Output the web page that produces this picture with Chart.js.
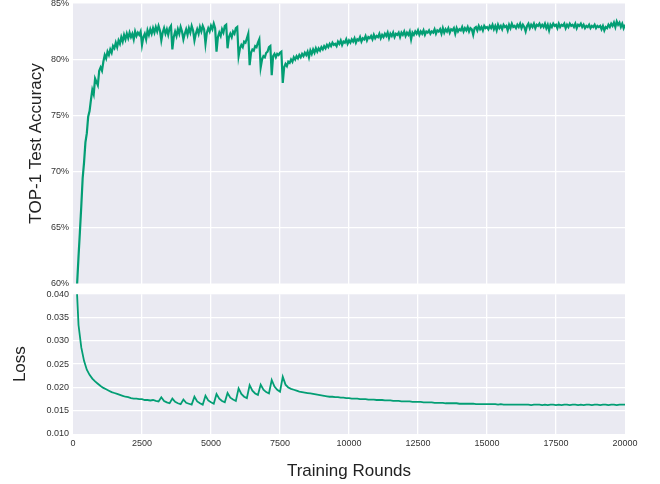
<!DOCTYPE html>
<html>
<head>
<meta charset="utf-8">
<script src="https://cdn.jsdelivr.net/npm/chart.js@4"></script>
<style>
  html, body { margin: 0; padding: 0; background: #ffffff; }
  #wrap { position: relative; width: 660px; height: 484px; overflow: hidden; }
  canvas { position: absolute; left: 0; }
  #acc { top: 0; }
  #loss { top: 286px; }
</style>
</head>
<body>
<div id="wrap">
  <canvas id="acc" width="660" height="290"></canvas>
  <canvas id="loss" width="660" height="198"></canvas>
</div>
<script>
// TOP-1 test accuracy (%), evaluated every 50 rounds (50 .. 20000)
const ACCURACY = [
  /*    50-1000  */ 52.0, 57.0, 60.0, 62.4, 64.6, 66.9, 69.4, 70.8, 72.6, 73.4, 74.9, 75.4, 76.4, 77.3, 76.9, 78.3, 78.0, 77.7, 79.0, 79.3,
  /*  1050-2000  */ 79.0, 79.8, 80.4, 80.1, 80.7, 80.4, 80.9, 80.6, 81.2, 81.0, 81.5, 81.1, 81.7, 81.4, 82.0, 81.6, 82.2, 81.8, 82.3, 81.9,
  /*  2050-3000  */ 82.4, 82.0, 82.3, 81.8, 82.5, 82.1, 82.4, 82.2, 82.5, 81.3, 82.0, 82.3, 81.8, 82.6, 82.2, 82.7, 82.3, 82.8, 82.4, 82.9,
  /*  3050-4000  */ 82.5, 83.0, 82.6, 81.7, 82.4, 82.8, 82.3, 82.7, 82.2, 82.8, 83.0, 80.9, 82.0, 82.5, 82.1, 82.7, 82.3, 82.9, 82.5, 81.8,
  /*  4050-5000  */ 82.3, 82.7, 82.2, 82.8, 82.4, 83.0, 82.6, 81.7, 82.3, 82.7, 82.3, 82.9, 82.5, 83.0, 82.7, 81.4, 82.4, 82.8, 82.5, 83.0,
  /*  5050-6000  */ 82.7, 83.2, 82.8, 80.7, 82.0, 82.4, 82.1, 82.7, 82.4, 83.0, 83.1, 81.0, 82.0, 82.3, 82.0, 82.5, 82.3, 82.8, 82.9, 80.3,
  /*  6050-7000  */ 81.0, 81.3, 81.1, 81.6, 81.5, 81.9, 82.3, 79.5, 80.6, 80.9, 80.8, 81.2, 81.1, 81.5, 81.8, 79.3, 80.0, 80.3, 80.2, 80.6,
  /*  7050-8000  */ 80.7, 81.1, 81.2, 78.6, 80.3, 80.5, 80.2, 80.5, 80.4, 80.6, 80.7, 77.9, 79.3, 79.6, 79.4, 79.8, 79.7, 80.0, 79.8, 80.2,
  /*  8050-9000  */ 80.0, 80.3, 80.1, 80.4, 80.2, 80.5, 80.3, 80.6, 80.4, 80.7, 80.2, 80.8, 80.5, 80.9, 80.6, 81.0, 80.7, 81.0, 80.8, 81.1,
  /*  9050-10000 */ 80.9, 81.2, 81.0, 81.3, 81.1, 81.4, 81.2, 81.5, 81.3, 81.4, 81.2, 81.6, 81.4, 81.7, 81.3, 81.6, 81.5, 81.8, 81.4, 81.7,
  /* 10050-11000 */ 81.5, 81.8, 81.6, 81.9, 81.5, 81.8, 81.7, 82.0, 81.6, 81.9, 81.8, 82.1, 81.7, 82.0, 81.9, 82.1, 81.8, 82.2, 81.9, 82.1,
  /* 11050-12000 */ 82.0, 82.3, 81.9, 82.2, 82.0, 82.3, 82.1, 82.4, 81.9, 82.3, 82.1, 82.4, 82.0, 82.3, 82.2, 82.4, 82.0, 82.4, 82.2, 82.5,
  /* 12050-13000 */ 82.1, 82.4, 82.2, 82.5, 81.8, 82.4, 82.2, 82.5, 82.3, 82.6, 82.2, 82.5, 82.3, 82.6, 82.2, 82.5, 82.4, 82.6, 82.3, 82.5,
  /* 13050-14000 */ 82.4, 82.7, 82.3, 82.6, 82.5, 82.7, 82.3, 82.8, 82.4, 82.7, 82.5, 82.8, 82.4, 82.7, 82.6, 82.8, 82.3, 82.8, 82.5, 82.7,
  /* 14050-15000 */ 82.6, 82.9, 82.5, 82.8, 82.6, 82.9, 82.5, 82.8, 82.7, 82.2, 82.8, 82.9, 82.6, 83.0, 82.7, 82.9, 82.6, 83.0, 82.8, 82.9,
  /* 15050-16000 */ 82.7, 83.0, 82.8, 83.1, 82.7, 83.0, 82.6, 83.1, 82.8, 83.0, 82.7, 83.1, 82.9, 83.0, 82.6, 83.1, 82.8, 83.2, 82.9, 83.0,
  /* 16050-17000 */ 82.8, 83.1, 82.9, 83.2, 82.8, 83.1, 82.9, 82.5, 83.0, 83.2, 82.8, 83.1, 82.9, 83.2, 82.8, 83.1, 83.0, 83.2, 82.9, 83.1,
  /* 17050-18000 */ 82.9, 83.2, 82.8, 83.1, 82.6, 83.1, 82.9, 83.2, 83.0, 83.1, 82.8, 83.2, 82.9, 83.1, 83.0, 83.2, 82.8, 83.1, 82.9, 83.2,
  /* 18050-19000 */ 83.0, 83.1, 82.9, 83.2, 82.8, 83.1, 83.0, 83.2, 82.9, 83.1, 82.8, 83.0, 82.9, 83.1, 82.8, 83.0, 82.9, 83.1, 82.8, 83.0,
  /* 19050-20000 */ 82.9, 83.0, 82.7, 83.0, 82.6, 82.9, 82.8, 83.1, 82.9, 83.2, 83.0, 83.3, 82.9, 83.4, 83.1, 83.3, 82.9, 83.2, 82.8, 83.1
];

// Training loss, evaluated every 100 rounds (100 .. 20000)
const LOSS = [
  /*   100-1000  */ 0.0460, 0.0334, 0.0286, 0.0257, 0.0238, 0.0227, 0.0219, 0.0213, 0.0208, 0.0203,
  /*  1100-2000  */ 0.0199, 0.0196, 0.0193, 0.0190, 0.0188, 0.0186, 0.0184, 0.0182, 0.0180, 0.0179,
  /*  2100-3000  */ 0.0177, 0.0176, 0.0176, 0.0175, 0.0175, 0.0173, 0.0173, 0.0172, 0.0173, 0.0171,
  /*  3100-4000  */ 0.0170, 0.0179, 0.0171, 0.0168, 0.0166, 0.0176, 0.0169, 0.0166, 0.0164, 0.0174,
  /*  4100-5000  */ 0.0167, 0.0165, 0.0163, 0.0180, 0.0170, 0.0166, 0.0163, 0.0182, 0.0172, 0.0168,
  /*  5100-6000  */ 0.0165, 0.0186, 0.0176, 0.0171, 0.0168, 0.0188, 0.0178, 0.0174, 0.0171, 0.0198,
  /*  6100-7000  */ 0.0186, 0.0180, 0.0177, 0.0205, 0.0193, 0.0187, 0.0184, 0.0206, 0.0195, 0.0190,
  /*  7100-8000  */ 0.0187, 0.0216, 0.0202, 0.0195, 0.0191, 0.0223, 0.0206, 0.0200, 0.0197, 0.0195,
  /*  8100-9000  */ 0.0193, 0.0191, 0.0190, 0.0189, 0.0188, 0.0187, 0.0186, 0.0185, 0.0184, 0.0183,
  /*  9100-10000 */ 0.0182, 0.0181, 0.0180, 0.0180, 0.0179, 0.0179, 0.0178, 0.0178, 0.0177, 0.0177,
  /* 10100-11000 */ 0.0176, 0.0176, 0.0176, 0.0175, 0.0175, 0.0175, 0.0174, 0.0174, 0.0174, 0.0173,
  /* 11100-12000 */ 0.0173, 0.0173, 0.0172, 0.0172, 0.0172, 0.0171, 0.0171, 0.0171, 0.0170, 0.0170,
  /* 12100-13000 */ 0.0170, 0.0170, 0.0169, 0.0169, 0.0169, 0.0169, 0.0168, 0.0168, 0.0168, 0.0168,
  /* 13100-14000 */ 0.0167, 0.0167, 0.0167, 0.0167, 0.0166, 0.0166, 0.0166, 0.0166, 0.0166, 0.0165,
  /* 14100-15000 */ 0.0165, 0.0165, 0.0165, 0.0165, 0.0165, 0.0164, 0.0164, 0.0164, 0.0164, 0.0164,
  /* 15100-16000 */ 0.0164, 0.0164, 0.0164, 0.0163, 0.0164, 0.0163, 0.0163, 0.0163, 0.0163, 0.0163,
  /* 16100-17000 */ 0.0163, 0.0163, 0.0163, 0.0163, 0.0163, 0.0162, 0.0163, 0.0163, 0.0163, 0.0162,
  /* 17100-18000 */ 0.0163, 0.0162, 0.0163, 0.0163, 0.0162, 0.0163, 0.0162, 0.0163, 0.0163, 0.0162,
  /* 18100-19000 */ 0.0163, 0.0163, 0.0162, 0.0163, 0.0162, 0.0163, 0.0163, 0.0162, 0.0163, 0.0163,
  /* 19100-20000 */ 0.0162, 0.0163, 0.0163, 0.0162, 0.0163, 0.0163, 0.0162, 0.0163, 0.0163, 0.0163
];

// Round numbers of the two evaluation schedules
const ACC_ROUNDS = ACCURACY.map((_, i) => (i + 1) * 50);
const LOSS_ROUNDS = LOSS.map((_, i) => (i + 1) * 100);

// Axis ranges and tick steps
const X_MIN = 0, X_MAX = 20000, X_STEP = 2500;
const ACC_MIN = 60, ACC_MAX = 85, ACC_STEP = 5;
const LOSS_MIN = 0.010, LOSS_MAX = 0.040, LOSS_STEP = 0.005;

const LINE_COLOR = '#039e74';
const PANEL_BG = '#eaeaf2';
const FONT = 'Liberation Sans, Arial, Helvetica, sans-serif';

Chart.defaults.font.family = FONT;
Chart.defaults.animation = false;

// Seaborn-style panel background behind the grid
const panelBackground = {
  id: 'panelBackground',
  beforeDraw(chart) {
    const { ctx, chartArea: a } = chart;
    ctx.save();
    ctx.fillStyle = PANEL_BG;
    ctx.fillRect(a.left, a.top, a.right - a.left, a.bottom - a.top);
    ctx.restore();
  }
};

// White grid lines, hidden on the panel edges
function gridColor(c) {
  const n = c.scale.ticks.length;
  return (c.index === 0 || c.index === n - 1) ? 'rgba(0,0,0,0)' : '#ffffff';
}

function xScale(showLabels) {
  return {
    type: 'linear',
    min: X_MIN, max: X_MAX,
    border: { display: false },
    grid: { color: gridColor, lineWidth: 1.3, drawTicks: false },
    ticks: {
      display: showLabels,
      stepSize: X_STEP,
      padding: 4,
      color: '#333333',
      font: { size: 9 },
      maxRotation: 0,
      callback: v => String(v)
    },
    title: showLabels ? {
      display: true,
      text: 'Training Rounds',
      color: '#222222',
      font: { size: 17 },
      padding: { top: 0, bottom: 2 }
    } : { display: false },
    afterFit(s) {
      s.height = showLabels ? 50 : 0;
      s.paddingLeft = 0; s.paddingRight = 0;
    }
  };
}

function yScale(min, max, step, fmt, title, titlePad) {
  return {
    type: 'linear',
    min, max,
    border: { display: false },
    grid: { color: gridColor, lineWidth: 1.3, drawTicks: false },
    ticks: {
      stepSize: step,
      padding: 4,
      color: '#333333',
      font: { size: 9 },
      callback: fmt
    },
    title: {
      display: true,
      text: title,
      color: '#222222',
      font: { size: 17 },
      padding: { top: titlePad, bottom: 0 }
    },
    afterFit(s) {
      s.width = 73;
      s.paddingTop = 0; s.paddingBottom = 0;
    }
  };
}

function points(xs, ys) {
  return xs.map((r, i) => ({ x: r, y: ys[i] }));
}

const common = {
  responsive: false,
  devicePixelRatio: 1,
  animation: false,
  events: [],
  plugins: { legend: { display: false }, tooltip: { enabled: false } },
  elements: { point: { radius: 0 }, line: { tension: 0 } }
};

new Chart(document.getElementById('acc'), {
  type: 'line',
  data: {
    datasets: [{
      data: points(ACC_ROUNDS, ACCURACY),
      borderColor: LINE_COLOR,
      borderWidth: 2.2,
      fill: false
    }]
  },
  options: Object.assign({}, common, {
    layout: { padding: { left: 0, right: 35, top: 3.5, bottom: 6.5 } },
    scales: {
      x: xScale(false),
      y: yScale(ACC_MIN, ACC_MAX, ACC_STEP, v => v + '%', 'TOP-1 Test Accuracy', 26)
    }
  }),
  plugins: [panelBackground]
});

new Chart(document.getElementById('loss'), {
  type: 'line',
  data: {
    datasets: [{
      data: points(LOSS_ROUNDS, LOSS),
      borderColor: LINE_COLOR,
      borderWidth: 1.8,
      fill: false
    }]
  },
  options: Object.assign({}, common, {
    layout: { padding: { left: 0, right: 35, top: 8.3, bottom: 0 } },
    scales: {
      x: xScale(true),
      y: yScale(LOSS_MIN, LOSS_MAX, LOSS_STEP, v => v.toFixed(3), 'Loss', 10)
    }
  }),
  plugins: [panelBackground]
});
</script>
</body>
</html>
